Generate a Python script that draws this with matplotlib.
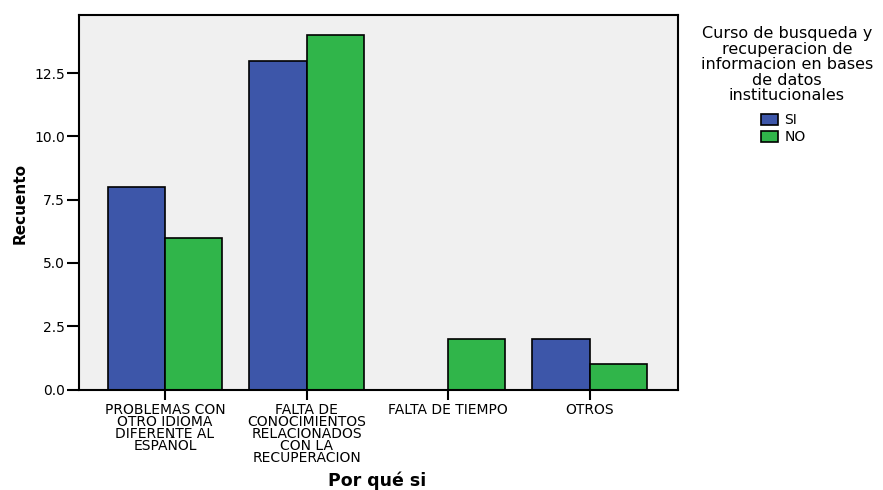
import numpy as np
import matplotlib.pyplot as plt

plt.rcParams['font.family'] = ['DejaVu Sans']

categories = ["PROBLEMAS CON\nOTRO IDIOMA\nDIFERENTE AL\nESPAÑOL",
              "FALTA DE\nCONOCIMIENTOS\nRELACIONADOS\nCON LA\nRECUPERACION",
              "FALTA DE TIEMPO",
              "OTROS"]
si_counts = [8, 13, 0, 2]
no_counts = [6, 14, 2, 1]
yticks = [0.0, 2.5, 5.0, 7.5, 10.0, 12.5]
legend_title = "Curso de busqueda y\nrecuperacion de\ninformacion en bases\nde datos\ninstitucionales"

blue = "#3d56a9"
green = "#30b54a"

W, H = 883, 490
fig = plt.figure(figsize=(W / 100, H / 100), dpi=100)
ax = fig.add_axes([79 / W, 1 - 389.5 / H, 599 / W, 374.5 / H])
ax.set_facecolor("#f0f0f0")

x = np.arange(len(categories))
bw = 0.405
ax.bar(x - bw / 2, si_counts, bw, color=blue, edgecolor="black", linewidth=1.2, label="SI")
ax.bar(x + bw / 2, no_counts, bw, color=green, edgecolor="black", linewidth=1.2, label="NO")

ax.set_xlim(-0.608, 3.625)
ax.set_ylim(0, 14.8)
ax.set_yticks(yticks)
ax.set_yticklabels(["%.1f" % v for v in yticks], fontsize=10)
ax.set_xticks(x)
ax.set_xticklabels(categories, fontsize=10, linespacing=0.82, va="top")
ax.tick_params(axis="y", length=9, width=1.5, pad=1)
ax.tick_params(axis="x", length=7, width=1.5, pad=3)
for s in ax.spines.values():
    s.set_linewidth(1.5)

fig.text(20 / W, 1 - 204 / H, "Recuento", rotation=90, fontsize=11, fontweight="bold",
         ha="center", va="center")
fig.text(377 / W, 1 - 481 / H, "Por qué si", fontsize=12.5, fontweight="bold",
         ha="center", va="center")

fig.text(787 / W, 1 - 26 / H, legend_title, fontsize=11.5, ha="center", va="top",
         linespacing=1.05)
fig.legend(loc="upper left", bbox_to_anchor=(761 / W, 1 - 113 / H), frameon=False,
           fontsize=10, handlelength=1.2, handleheight=0.85, handletextpad=0.5,
           labelspacing=0.25, borderpad=0, borderaxespad=0)

plt.savefig("out.png", dpi=100)
